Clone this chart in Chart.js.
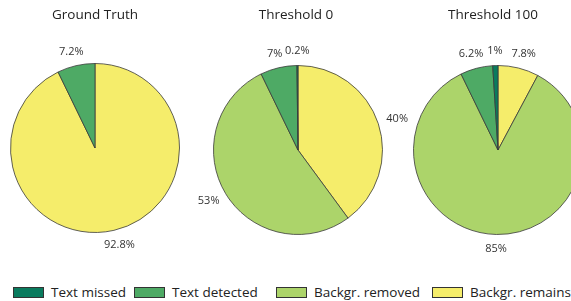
<!DOCTYPE html>
<html>
<head>
<meta charset="utf-8">
<script src="https://cdn.jsdelivr.net/npm/chart.js@4.4.1/dist/chart.umd.min.js"></script>
<style>
body{margin:0;width:571px;height:301px;overflow:hidden;background:#fff;position:relative;font-family:"Open Sans",sans-serif;}
canvas{position:absolute;top:0;}
.box{position:absolute;top:287px;width:29px;height:9px;border:1px solid #333;}
.lbl{position:absolute;top:283px;font-size:13.5px;line-height:18px;color:#222;white-space:nowrap;}
</style>
</head>
<body>
<canvas id="pie1" width="190" height="280" style="left:0px"></canvas>
<canvas id="pie2" width="220" height="280" style="left:188px"></canvas>
<canvas id="pie3" width="200" height="280" style="left:398px"></canvas>
<div id="legend"></div>
<script>
// legend order
const categories = ['Text missed', 'Text detected', 'Backgr. removed', 'Backgr. remains'];
const colors = ['#0a7b5e', '#4eaa65', '#acd46a', '#f5ed6b'];

// percent per category (same order as categories)
const groundTruth  = [0, 7.2, 0, 92.8];
const threshold0   = [0.2, 7, 53, 40];
const threshold100 = [1, 6.2, 85, 7.8];

const titles = ['Ground Truth', 'Threshold 0', 'Threshold 100'];

// slices run clockwise from 12 o'clock in reverse legend order
function pieOrder(arr){ return arr.slice().reverse(); }

const outsideLabels = {
    id: 'outsideLabels',
    afterDatasetsDraw(chart){
        const ctx = chart.ctx;
        const meta = chart.getDatasetMeta(0);
        const values = chart.data.datasets[0].data;
        ctx.save();
        ctx.font = '11px "Open Sans"';
        ctx.fillStyle = '#333';
        ctx.textAlign = 'center';
        ctx.textBaseline = 'middle';
        meta.data.forEach((arc, i) => {
            if(!values[i]) return;
            const p = arc.getProps(['x','y','startAngle','endAngle','outerRadius'], true);
            const a = (p.startAngle + p.endAngle) / 2;
            const ux = Math.cos(a), uy = Math.sin(a);
            const txt = values[i] + '%';
            const w = ctx.measureText(txt).width, h = 11;
            const x = p.x + ux * (p.outerRadius + 9) + ux * w / 2;
            const y = p.y + uy * (p.outerRadius + 9) + uy * h / 2;
            ctx.fillText(txt, x, y);
        });
        ctx.restore();
    }
};

const panelTitle = {
    id: 'panelTitle',
    afterDraw(chart, args, opts){
        const ctx = chart.ctx;
        const area = chart.chartArea;
        ctx.save();
        ctx.font = '13.5px "Open Sans"';
        ctx.fillStyle = '#222';
        ctx.textAlign = 'center';
        ctx.textBaseline = 'middle';
        ctx.fillText(opts.text, (area.left + area.right) / 2 + (opts.dx || 0), 15);
        ctx.restore();
    }
};

function makePie(id, values, title, dx, padTop, padBottom){
    const ctx = document.getElementById(id).getContext('2d');
    return new Chart(ctx, {
        type: 'pie',
        data: {
            labels: pieOrder(categories),
            datasets: [{
                data: pieOrder(values),
                backgroundColor: pieOrder(colors),
                borderColor: '#3a3a3a',
                borderWidth: 0.8,
                radius: 84.5
            }]
        },
        options: {
            responsive: false,
            animation: false,
            layout: { padding: { top: padTop, bottom: padBottom, left: 0, right: 0 } },
            plugins: {
                legend: { display: false },
                tooltip: { enabled: false },
                panelTitle: { text: title, dx: dx }
            }
        },
        plugins: [outsideLabels, panelTitle]
    });
}

makePie('pie1', groundTruth, titles[0], 0, 30, 14);
makePie('pie2', threshold0, titles[1], -2, 30, 10);
makePie('pie3', threshold100, titles[2], -5, 30, 10);

// legend
const legendX = [13, 134, 276, 432];
const legend = document.getElementById('legend');
categories.forEach((name, i) => {
    const b = document.createElement('div');
    b.className = 'box';
    b.style.left = legendX[i] + 'px';
    b.style.background = colors[i];
    legend.appendChild(b);
    const t = document.createElement('div');
    t.className = 'lbl';
    t.style.left = (legendX[i] + 38) + 'px';
    t.textContent = name;
    legend.appendChild(t);
});
</script>
</body>
</html>
